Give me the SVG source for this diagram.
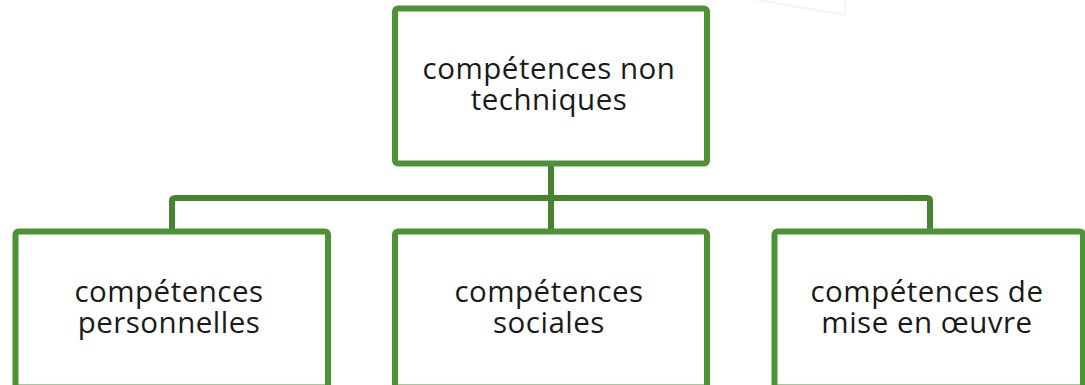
<svg xmlns="http://www.w3.org/2000/svg" width="1085" height="385" viewBox="0 0 1085 385">
  <style>
    .box { fill: #ffffff; stroke: #4d9235; stroke-width: 6; }
    .link { fill: none; stroke: #45832e; stroke-width: 6; stroke-linejoin: round; }
    .label { font-family: "Open Sans", "Liberation Sans", sans-serif; font-size: 29.5px; letter-spacing: 0.5px; fill: #1a1a1a; text-anchor: middle; }
  </style>
  <rect width="1085" height="385" fill="#ffffff"/>
  <!-- faint ruled mark near the top edge -->
  <polyline points="757,0 845,15 845,0" fill="none" stroke="#f2f2f2" stroke-width="1.5"/>

  <g id="connectors">
    <path class="link" d="M551,166 V198"/>
    <path class="link" d="M172,230 V201 Q172,198 175,198 H927 Q930,198 930,201 V230"/>
    <path class="link" d="M551,198 V230"/>
  </g>

  <g id="node-root">
    <rect class="box" x="395" y="8.5" width="312" height="155" rx="3"/>
    <text class="label"><tspan x="549" y="79">compétences non</tspan><tspan x="549" y="110">techniques</tspan></text>
  </g>

  <g id="node-personnelles">
    <rect class="box" x="15.5" y="231.5" width="312.5" height="156" rx="3"/>
    <text class="label"><tspan x="169" y="302">compétences</tspan><tspan x="169" y="333">personnelles</tspan></text>
  </g>

  <g id="node-sociales">
    <rect class="box" x="395" y="231.5" width="312" height="156" rx="3"/>
    <text class="label"><tspan x="549" y="302">compétences</tspan><tspan x="549" y="333">sociales</tspan></text>
  </g>

  <g id="node-mise-en-oeuvre">
    <rect class="box" x="774.5" y="231.5" width="308.5" height="156" rx="3"/>
    <text class="label"><tspan x="927" y="302">compétences de</tspan><tspan x="927" y="333">mise en œuvre</tspan></text>
  </g>
</svg>
